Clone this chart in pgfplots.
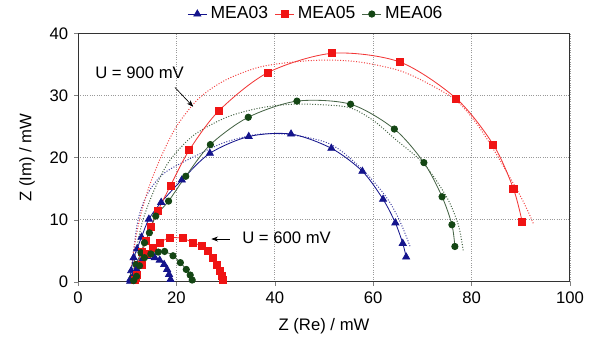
\documentclass[border=0pt]{standalone}
\usepackage{pgfplots}
\pgfplotsset{compat=1.18}
\usepackage{fontspec}
\setmainfont{Liberation Sans}
\usetikzlibrary{arrows.meta}
\definecolor{mblue}{RGB}{20,20,140}
\definecolor{mred}{RGB}{240,20,20}
\definecolor{mgreen}{RGB}{20,70,20}
\definecolor{lgreen}{RGB}{70,100,70}
\begin{document}
\begin{tikzpicture}
\begin{axis}[
  name=ax,
  scale only axis,
  width=295pt, height=149pt,
  xmin=0, xmax=100, ymin=0, ymax=40,
  xtick={0,20,...,100}, ytick={0,10,...,40},
  xtick pos=bottom, ytick pos=left,
  tick align=outside, major tick length=2.4pt,
  axis line style={line width=0.6pt, black!80},
  grid=major,
  grid style={densely dotted, gray!80, line width=0.5pt},
  /pgf/number format/assume math mode=true,
  ticklabel style={font=\fontsize{10}{12}\selectfont},
  xlabel={Z (Re) / mW}, ylabel={Z (Im) / mW},
  label style={font=\fontsize{10}{12}\selectfont},
  xlabel style={yshift=-2pt},
  ylabel style={yshift=2pt},
  legend style={at={(0.485,1.0)}, anchor=south, yshift=3pt, draw=none, fill=none,
    legend columns=3, font=\fontsize{10.5}{12}\selectfont,
    /tikz/every even column/.append style={column sep=2pt}},
  legend image code/.code={\draw[mark repeat=2,mark phase=2] plot coordinates {(0cm,0cm)(0.2cm,0cm)(0.4cm,0cm)};},
  clip=false,
]
% dotted fits 900 mV
\addplot[mblue!80, densely dotted, line width=0.6pt, smooth, tension=0.5, forget plot] coordinates {
(10.5,0)(11.3,5)(12.2,10)(14,14)(17.5,17.5)(24.7,20.6)(30,22.5)(37,23.8)(44,23.6)(51.5,22.1)(57.8,18.1)(62.7,13.6)(65.4,9.8)(67.6,5.5)};
\addplot[mred!80, densely dotted, line width=0.6pt, smooth, tension=0.5, forget plot] coordinates {
(10.5,0)(11.3,5)(12.5,10)(14.3,15)(16.8,20)(20,25)(24.5,29.5)(30,32.5)(37,34.6)(45.1,35.5)(51.7,35.7)(58,35.3)(65.4,34.0)(71,32)(76.9,29.2)(81,25.5)(84.4,21.4)(87.5,17.2)(89.8,14.0)(91.5,11.3)(92.6,9.3)};
\addplot[lgreen, densely dotted, line width=0.6pt, smooth, tension=0.5, forget plot] coordinates {
(10.8,0)(11.8,5)(13.2,10)(15.6,15)(18.6,19.5)(23.5,23.6)(30.2,26.5)(37,28)(43.7,28.6)(50,28.5)(55.4,28.0)(60,26)(64.3,23.1)(70.3,19.0)(74.9,13.7)(77.3,9.2)(78.3,5.0)};
% 900 mV measurements
\addplot[mblue, line width=0.5pt, smooth, tension=0.5, mark=triangle*, mark size=2.4pt, mark options={solid, fill=mblue}] coordinates {
(10.6,0.4)(10.8,1.8)(11.3,3.9)(12.0,5.3)(12.9,7.2)(14.4,10.1)(16.9,12.8)(21.1,16.4)(26.8,20.7)(34.7,23.4)(43.3,23.8)(51.5,21.5)(57.8,17.8)(62.0,13.3)(64.5,9.5)(66.0,6.2)(66.7,4.0)};
\addlegendentry{MEA03}
\addplot[mred!85, line width=0.5pt, smooth, tension=0.5, mark=square*, mark size=2.1pt, mark options={solid, fill=mred, draw=mred}] coordinates {
(11.8,0.7)(12.1,2.8)(13.0,4.8)(13.8,6.6)(14.8,8.9)(16.2,11.4)(18.8,15.5)(22.6,21.2)(28.7,27.6)(38.6,33.7)(51.7,36.8)(65.4,35.4)(76.9,29.5)(84.4,22.1)(88.5,15.0)(90.3,9.6)};
\addlegendentry{MEA05}
\addplot[lgreen, line width=0.5pt, smooth, tension=0.5, mark=*, mark size=1.9pt, mark options={solid, fill=mgreen, draw=mgreen}] coordinates {
(11.1,0.7)(11.8,2.8)(12.8,4.7)(13.5,6.3)(14.5,7.9)(15.8,10.6)(18.4,13.0)(21.9,17.0)(26.9,22.1)(34.6,26.5)(44.5,29.1)(55.4,28.6)(64.3,24.6)(70.3,19.2)(74.0,13.7)(76.0,9.2)(76.6,5.7)};
\addlegendentry{MEA06}
% 600 mV measurements
\addplot[mblue, line width=0.5pt, smooth, tension=0.5, mark=triangle*, mark size=2.4pt, mark options={solid, fill=mblue}, forget plot] coordinates {
(10.6,0.1)(11.2,0.8)(11.9,2.0)(12.9,3.4)(14.2,4.1)(15.6,3.9)(16.6,3.5)(17.5,2.8)(18.1,2.0)(18.5,1.2)(18.8,0.4)};
\addplot[mred!85, line width=0.5pt, smooth, tension=0.5, mark=square*, mark size=2.1pt, mark options={solid, fill=mred, draw=mred}, forget plot] coordinates {
(11.6,0.3)(11.9,1.2)(12.9,2.8)(13.9,4.5)(15.2,5.5)(16.6,6.3)(18.6,7.1)(21.3,7.0)(23.4,6.3)(25.1,5.8)(26.4,5.0)(27.4,3.9)(28.3,2.8)(28.8,1.8)(29.2,1.0)(29.4,0.3)};
\addplot[lgreen, line width=0.5pt, smooth, tension=0.5, mark=*, mark size=1.9pt, mark options={solid, fill=mgreen, draw=mgreen}, forget plot] coordinates {
(11.3,0.2)(11.9,0.9)(12.5,2.6)(13.5,3.9)(14.8,4.5)(16.3,4.8)(17.6,4.9)(19.3,4.2)(20.8,3.1)(22.0,2.0)(22.8,1.1)(23.2,0.3)};
% annotations
\node[font=\fontsize{10}{12}\selectfont] at (axis cs:12.5,33.7) {U = 900 mV};
\draw[-{Stealth[length=4pt,width=3pt]}, line width=0.4pt] (axis cs:19.7,31.3) -- (axis cs:23.4,28.2);
\node[font=\fontsize{10}{12}\selectfont, anchor=west] at (axis cs:32.2,7.1) {U = 600 mV};
\draw[-{Stealth[length=4pt,width=3pt]}, line width=0.4pt] (axis cs:30.8,6.9) -- (axis cs:27.1,6.9);
\end{axis}
\path (ax.south west) ++(-46.8pt,-40.2pt) coordinate (bbsw);
\path (ax.north east) ++(12pt,19.8pt) coordinate (bbne);
\path[use as bounding box] (bbsw) rectangle (bbne);
\end{tikzpicture}
\end{document}
